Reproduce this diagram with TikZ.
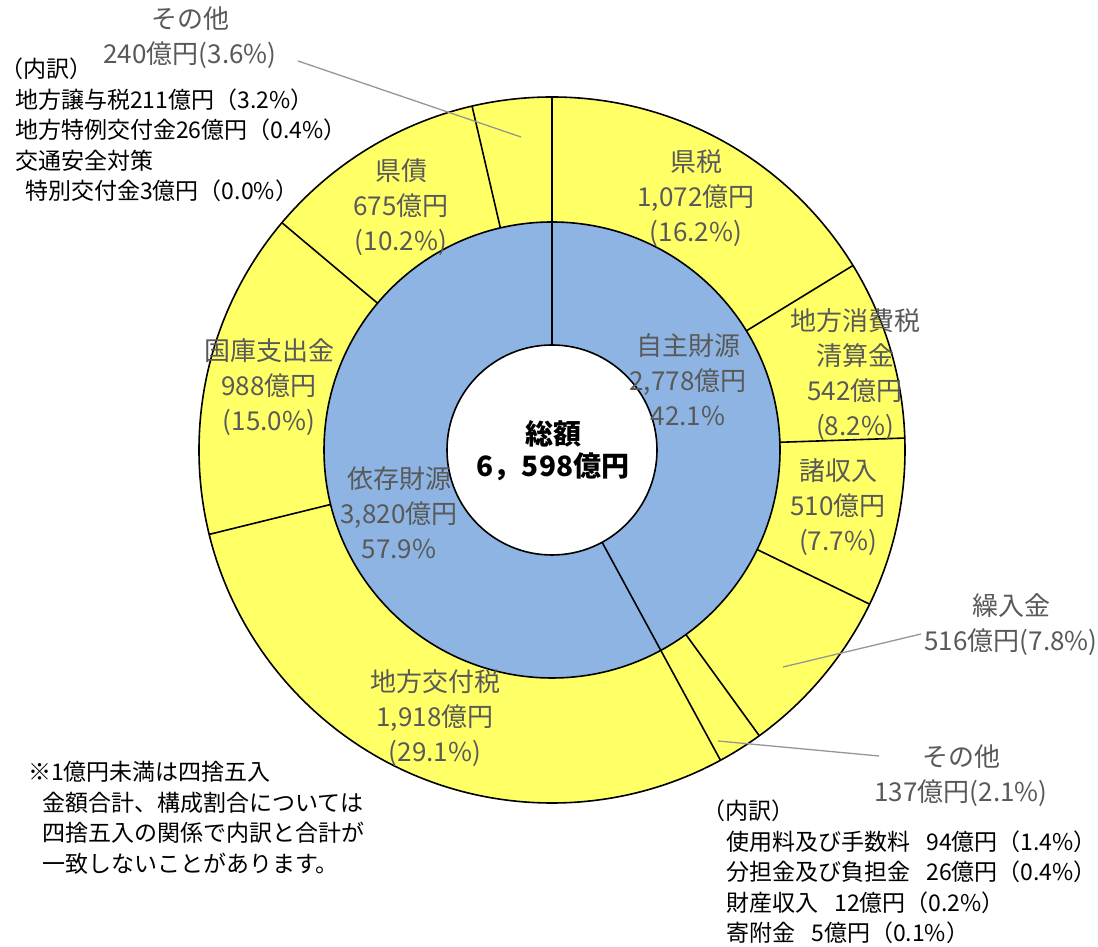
\documentclass[tikz,border=0pt]{standalone}
\usepackage{fontspec}
\setmainfont{Noto Sans CJK JP}
\usepackage{tikz}
\definecolor{ringyellow}{RGB}{255,255,102}
\definecolor{ringblue}{RGB}{141,180,226}
\definecolor{labelgray}{RGB}{89,89,89}
\definecolor{leadergray}{RGB}{150,150,150}

\begin{document}
\begin{tikzpicture}[x=1pt,y=1pt,
  ring/.style={draw=black,line width=1.6pt},
  seglabel/.style={text=labelgray,align=center,inner sep=0pt,font=\fontsize{26}{35}\selectfont},
  notebox/.style={text=black,align=left,anchor=west,inner sep=0pt,font=\fontsize{23}{30.5}\selectfont},
  leader/.style={draw=leadergray,line width=1.3pt}]
\fill[white] (0,0) rectangle (1098,947);
\useasboundingbox (0,0) rectangle (1098,947);
\coordinate (c) at (552,497);

% rings
\draw[ring,fill=ringyellow] (c) circle[radius=353pt];
\draw[ring,fill=ringblue] (c) circle[radius=228pt];
\foreach \a in {31.51,1.94,-25.89,-54.04,-166.17,-220.08,-256.91}
  \draw[ring] (c) ++(\a:228pt) -- ++(\a:125pt);
\foreach \a in {90,-61.5}
  \draw[ring] (c) ++(\a:105pt) -- ++(\a:248pt);
\draw[ring,fill=white] (c) circle[radius=105pt];

\node[font=\bfseries\fontsize{28}{32}\selectfont,align=center,inner sep=0pt] (total) at (553,496) {総額\\6，598億円};

% outer ring
\node[seglabel] (kenzei) at (696,749) {県税\\1,072億円\\(16.2\%)};
\node[seglabel] (shohizei) at (855,572) {地方消費税\\清算金\\542億円\\(8.2\%)};
\node[seglabel] (shoshunyu) at (838,440) {諸収入\\510億円\\(7.7\%)};
\node[seglabel] (kurirekin) at (1011,322) {繰入金\\516億円(7.8\%)};
\node[seglabel] (sonotaA) at (961,171) {その他\\137億円(2.1\%)};
\node[seglabel] (kofuzei) at (435,229) {地方交付税\\1,918億円\\(29.1\%)};
\node[seglabel] (kokko) at (269,560) {国庫支出金\\988億円\\(15.0\%)};
\node[seglabel] (kensai) at (401,740) {県債\\675億円\\(10.2\%)};
\node[seglabel] (sonotaB) at (190,909) {その他\\240億円(3.6\%)};

% inner ring
\node[seglabel] (jishu) at (688,567) {自主財源\\2,778億円\\42.1\%};
\node[seglabel] (izon) at (399,434) {依存財源\\3,820億円\\57.9\%};

% leaders
\coordinate (sonotaB from) at (298,886);
\coordinate (sonotaB to) at (521,810);
\coordinate (kurirekin from) at (921,313);
\coordinate (kurirekin to) at (783,280);
\coordinate (sonotaA from) at (879,191);
\coordinate (sonotaA to) at (718,206);
\draw[leader] (sonotaB from) -- (sonotaB to);
\draw[leader] (kurirekin from) -- (kurirekin to);
\draw[leader] (sonotaA from) -- (sonotaA to);

% breakdowns and note
\node[notebox] (uchiwakeB) at (0,817) {（内訳）\\
\hspace*{15pt}地方譲与税211億円（3.2\%）\\
\hspace*{15pt}地方特例交付金26億円（0.4\%）\\
\hspace*{15pt}交通安全対策\\
\hspace*{25pt}特別交付金3億円（0.0\%）};
\node[notebox] (uchiwakeA) at (702,75) {（内訳）\\
\hspace*{24pt}使用料及び手数料\hspace{.7em}94億円（1.4\%）\\
\hspace*{24pt}分担金及び負担金\hspace{.7em}26億円（0.4\%）\\
\hspace*{24pt}財産収入\hspace{.7em}12億円（0.2\%）\\
\hspace*{24pt}寄附金\hspace{.7em}5億円（0.1\%）};
\node[notebox] (chuki) at (28,129) {※1億円未満は四捨五入\\
\hspace*{14pt}金額合計、構成割合については\\
\hspace*{14pt}四捨五入の関係で内訳と合計が\\
\hspace*{14pt}一致しないことがあります。};
\end{tikzpicture}
\end{document}
